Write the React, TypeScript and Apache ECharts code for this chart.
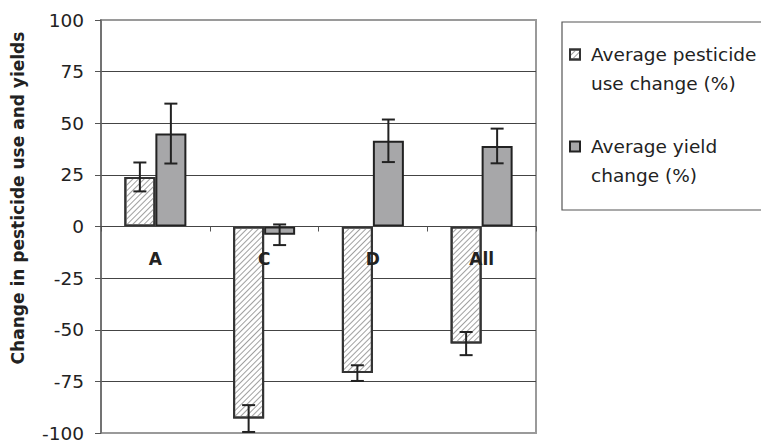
import React, { useEffect, useRef } from "react";
import * as echarts from "echarts";

const categories = ["A", "C", "D", "All"];
const pesticideChange = [24, -93, -71, -56.7];
const pesticideErr = [7, 6.5, 3.8, 5.6];
const yieldChange = [45, -4, 41.5, 39];
const yieldErr = [14.5, 5, 10.3, 8.4];
const yTicks = { min: -100, max: 100, interval: 25 };
const seriesNames = ["Average pesticide\nuse change (%)", "Average yield\nchange (%)"];
const yTitle = "Change in pesticide use and yields";

const BAR_W = 31;
const GRID_TOP = 20;
const GRID_BOTTOM = 10;
const CHART_H = 443;

function errorSeries(values: number[], errs: number[], offset: number) {
  return {
    type: "custom",
    z: 5,
    silent: true,
    encode: { x: 0, y: 1 },
    data: values.map((v, i) => [i, v, errs[i]]),
    renderItem: (params: any, api: any) => {
      const i = api.value(0);
      const v = api.value(1);
      const e = api.value(2);
      const top = api.coord([i, v + e]);
      const bot = api.coord([i, v - e]);
      const cx = top[0] + offset;
      const cap = 6.5;
      const style = { stroke: "#222", lineWidth: 2 };
      return {
        type: "group",
        children: [
          { type: "line", shape: { x1: cx, y1: top[1], x2: cx, y2: bot[1] }, style },
          { type: "line", shape: { x1: cx - cap, y1: top[1], x2: cx + cap, y2: top[1] }, style },
          { type: "line", shape: { x1: cx - cap, y1: bot[1], x2: cx + cap, y2: bot[1] }, style },
        ],
      };
    },
  };
}

export default function App() {
  const ref = useRef<HTMLDivElement>(null);
  useEffect(() => {
    if (!ref.current) return;
    const chart = echarts.init(ref.current, null, { renderer: "svg" });
    // x axis sits at value 0: shift it up from the grid bottom
    const plotH = CHART_H - GRID_TOP - GRID_BOTTOM;
    const zeroFromBottom = (plotH * (0 - yTicks.min)) / (yTicks.max - yTicks.min);
    chart.setOption({
      animation: false,
      backgroundColor: "#fff",
      grid: {
        left: 101,
        right: 225,
        top: GRID_TOP,
        bottom: GRID_BOTTOM,
        show: true,
        borderColor: "#9a9a9a",
        borderWidth: 2,
        containLabel: false,
        outerBoundsMode: "none",
      },
      legend: {
        data: seriesNames,
        orient: "vertical",
        left: 569,
        top: 11,
        padding: 0,
        itemGap: 5,
        itemWidth: 10,
        itemHeight: 10,
        icon: "rect",
        formatter: (name: string) => "\n" + name,
        textStyle: {
          fontFamily: "DejaVu Sans",
          fontSize: 18.5,
          color: "#222",
          lineHeight: 29,
          padding: [0, 0, 0, 6],
        },
      },
      xAxis: {
        type: "category",
        data: categories,
        offset: -zeroFromBottom,
        axisLine: { onZero: false, lineStyle: { color: "#444", width: 1 } },
        axisTick: { show: true, length: 5, lineStyle: { color: "#555" } },
        axisLabel: {
          fontFamily: "DejaVu Sans",
          fontWeight: "bold",
          fontSize: 17,
          color: "#222",
          margin: 24,
        },
        z: 4,
      },
      yAxis: {
        type: "value",
        min: yTicks.min,
        max: yTicks.max,
        interval: yTicks.interval,
        axisLine: { show: true, lineStyle: { color: "#666", width: 1.5 } },
        axisTick: { show: true, length: 6, lineStyle: { color: "#555" } },
        axisLabel: {
          fontFamily: "DejaVu Sans",
          fontSize: 18.5,
          lineHeight: 14,
          color: "#222",
          margin: 17,
        },
        splitLine: {
          show: true,
          showMinLine: false,
          showMaxLine: false,
          lineStyle: { color: "#444", width: 1 },
        },
      },
      graphic: [
        {
          type: "rect",
          shape: { x: 562, y: 22, width: 230, height: 188 },
          style: { fill: "none", stroke: "#555", lineWidth: 1.2 },
          z: -1,
        },
        {
          type: "text",
          x: 18,
          y: 198,
          rotation: Math.PI / 2,
          style: {
            text: yTitle,
            fontFamily: "DejaVu Sans",
            fontWeight: "bold",
            fontSize: 17,
            fill: "#222",
            align: "center",
            verticalAlign: "middle",
          },
        },
      ],
      series: [
        {
          name: seriesNames[0],
          type: "bar",
          data: pesticideChange,
          barWidth: BAR_W,
          barGap: "0%",
          itemStyle: {
            color: "#ffffff",
            borderColor: "#333",
            borderWidth: 2,
            decal: {
              symbol: "rect",
              symbolSize: 1,
              color: "#a0a0a0",
              dashArrayX: [1, 0],
              dashArrayY: [1, 3],
              rotation: -Math.PI / 4,
            },
          },
        },
        {
          name: seriesNames[1],
          type: "bar",
          data: yieldChange,
          barWidth: BAR_W,
          barGap: "0%",
          itemStyle: { color: "#a7a7a9", borderColor: "#222", borderWidth: 2 },
        },
        errorSeries(pesticideChange, pesticideErr, -BAR_W / 2),
        errorSeries(yieldChange, yieldErr, BAR_W / 2),
      ],
    });
    return () => chart.dispose();
  }, []);
  return (
    <div
      ref={ref}
      style={{ position: "fixed", left: 0, top: 0, width: 761, height: 443 }}
    />
  );
}
